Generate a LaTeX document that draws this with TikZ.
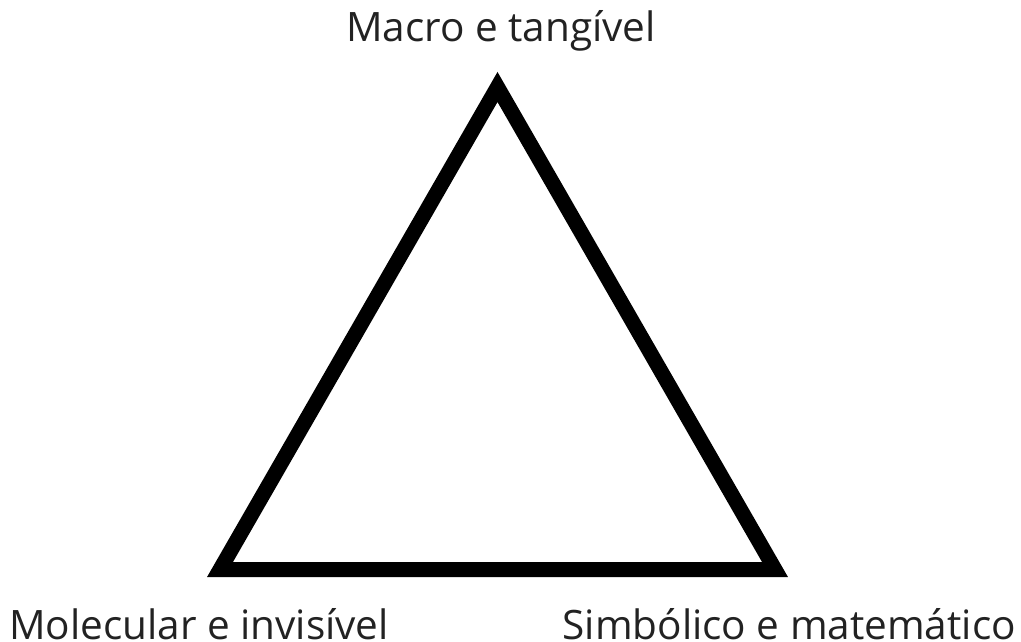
\documentclass[tikz,border=0pt]{standalone}
\usepackage{fontspec}
\setmainfont{Open Sans}
\definecolor{txt}{HTML}{222222}
\begin{document}
\begin{tikzpicture}[x=1pt,y=1pt,
  lbl/.style={inner sep=0pt,font=\fontsize{40.5}{46}\selectfont,text=txt},
  tri/.style={line width=15pt,miter limit=10,line join=miter}]
\useasboundingbox (0,0) rectangle (1021,641);
\coordinate (top) at (497.5,554);
\coordinate (bl) at (220,71.5);
\coordinate (br) at (775,71.5);
\draw[tri] (top) -- (bl) -- (br) -- cycle;
\node[lbl,anchor=base] (tl) at (501,599) {Macro e tangível};
\node[lbl,anchor=base west] (ll) at (9,2) {Molecular e invisível};
\node[lbl,anchor=base east] (rl) at (1016,2) {Simbólico e matemático};
\end{tikzpicture}
\end{document}
